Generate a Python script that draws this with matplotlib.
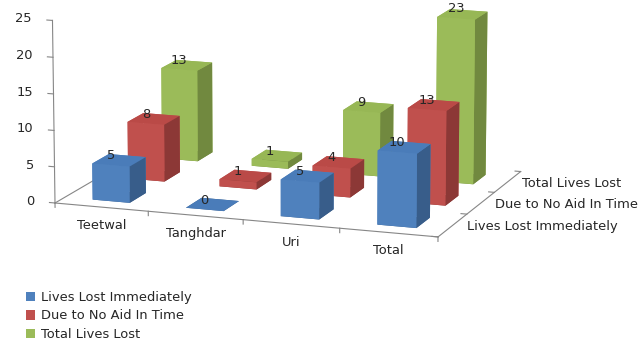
import numpy as np
import matplotlib
matplotlib.use('Agg')
import matplotlib.pyplot as plt
from matplotlib.patches import Patch

categories = ['Teetwal', 'Tanghdar', 'Uri', 'Total']
series_names = ['Lives Lost Immediately', 'Due to No Aid In Time', 'Total Lives Lost']
lives_lost_immediately = [5, 0, 5, 10]
due_to_no_aid = [8, 1, 4, 13]
total_lives_lost = [13, 1, 9, 23]
value_ticks = [0, 5, 10, 15, 20, 25]

front_colors = ['#4F81BD', '#C0504D', '#9BBB59']
top_colors = ['#4A7CB9', '#BA4A47', '#97B755']
side_colors = ['#385D8A', '#8C3836', '#71893F']
axis_color = '#868686'
text_color = '#262626'
fs = 9.4

values = [lives_lost_immediately, due_to_no_aid, total_lives_lost]
n_cat = len(categories)
n_ser = len(series_names)

W, H = 640, 341
fig = plt.figure(figsize=(W / 100, H / 100), dpi=100)
ax = fig.add_axes([0, 0, 1, 1], projection='3d', computed_zorder=False)
ax.set_proj_type('persp', focal_length=1.4)
ax.view_init(elev=12.5, azim=-70.4)
ax.set_box_aspect((403, 286, 187))
ax.set_xlim(0, n_cat)
ax.set_ylim(0, n_ser)
ax.set_zlim(0, 25)
ax.set_axis_off()

M = ax.get_proj()


def proj2d(x, y, z):
    v = M @ np.array([x, y, z, 1.0])
    return v[0] / v[3], v[1] / v[3]


# place the (square) axes so the floor's front corners land where they sit in the chart
lo_x, hi_x = ax.viewLim.intervalx
lo_y, hi_y = ax.viewLim.intervaly
p0 = np.array(proj2d(0, 0, 0))
p1 = np.array(proj2d(n_cat, 0, 0))
t0 = np.array([55.0, H - 203.0])
t1 = np.array([438.0, H - 237.0])
side = np.linalg.norm(t1 - t0) / np.linalg.norm(p1 - p0) * (hi_x - lo_x)
left = t0[0] - (p0[0] - lo_x) / (hi_x - lo_x) * side
bottom = t0[1] - (p0[1] - lo_y) / (hi_y - lo_y) * side
ax.set_position([left / W, bottom / H, side / W, side / H])


def label(x, y, z, s, **kw):
    px, py = proj2d(x, y, z)
    ax.text2D(px, py, s, transform=ax.transData, fontsize=fs, color=text_color, **kw)


# floor edges and value axis
ax.plot([0, n_cat], [0, 0], [0, 0], color=axis_color, lw=0.8, zorder=0)
ax.plot([0, 0], [0, n_ser], [0, 0], color=axis_color, lw=0.8, zorder=0)
ax.plot([n_cat, n_cat], [0, n_ser], [0, 0], color=axis_color, lw=0.8, zorder=0)
ax.plot([0, 0], [0, 0], [0, 25], color=axis_color, lw=0.8, zorder=0)

for t in value_ticks:
    ax.plot([0, -0.06], [0, 0], [t, t], color=axis_color, lw=0.8, zorder=0)
    label(-0.22, 0, t, str(t), ha='right', va='center')

for i in range(n_cat + 1):
    ax.plot([i, i], [0, 0], [0, -0.6], color=axis_color, lw=0.8, zorder=0)
for j in range(n_ser + 1):
    ax.plot([n_cat, n_cat - 0.06], [j, j], [0, 0], color=axis_color, lw=0.8, zorder=0)

for i, name in enumerate(categories):
    label(i + 0.5, 0, -1.6, name, ha='center', va='top')
for j, name in enumerate(series_names):
    label(n_cat + 0.15, j + 0.5, 0, name, ha='left', va='center')

# bars, drawn back row first so the front ones sit on top
bar_w = 0.4
bar_d = 0.46
z = 1
for j in reversed(range(n_ser)):
    for i in range(n_cat):
        v = values[j][i]
        # bar3d face order: bottom, top, front, back, left, right
        cols = [side_colors[j], top_colors[j], front_colors[j],
                front_colors[j], front_colors[j], side_colors[j]]
        bars = ax.bar3d(i + 0.5 - bar_w / 2, j + 0.5 - bar_d / 2, 0, bar_w, bar_d, v,
                        color=cols, shade=False, linewidth=0)
        bars.set_zorder(z)
        z += 1

for j in range(n_ser):
    for i in range(n_cat):
        v = values[j][i]
        label(i + 0.5, j + 0.5 - bar_d / 2, v + 0.4, str(v), ha='center', va='bottom', zorder=100)

handles = [Patch(facecolor=c, edgecolor='none') for c in front_colors]
fig.legend(handles, series_names, loc='upper left', bbox_to_anchor=(26 / W, 1 - 291 / H),
           frameon=False, fontsize=fs, handlelength=0.72, handleheight=0.72,
           handletextpad=0.45, labelspacing=0.42, borderpad=0, borderaxespad=0,
           labelcolor=text_color)

fig.savefig('out.png', dpi=100)
